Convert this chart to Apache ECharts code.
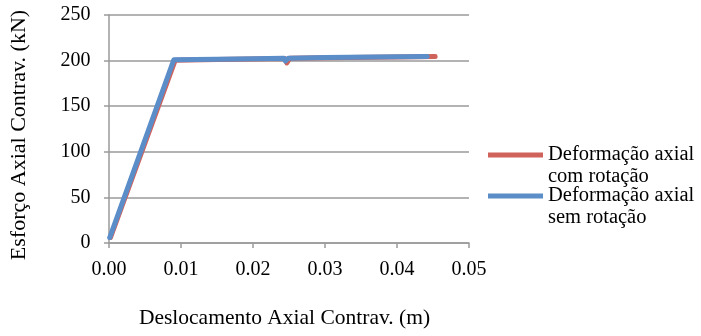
<!DOCTYPE html>
<html><head><meta charset="utf-8">
<script src="https://cdn.jsdelivr.net/npm/echarts@6/dist/echarts.min.js"></script>
<style>html,body{margin:0;padding:0;background:#fff}#c{width:701px;height:336px}</style>
</head><body><div id="c"></div>
<script>
const seriesNames = ['Deformação axial\ncom rotação', 'Deformação axial\nsem rotação'];
const comRotacao = [[0.0002, 6], [0.0092, 200.5], [0.0150, 201.2], [0.0200, 201.8], [0.0244, 202.4], [0.0247, 197.4], [0.0251, 202.6], [0.0300, 203.1], [0.0400, 204.0], [0.0453, 204.4]];
const semRotacao = [[0.0001, 6], [0.0090, 200.8], [0.0150, 201.4], [0.0200, 202.0], [0.0243, 202.5], [0.0245, 199.5], [0.0249, 202.7], [0.0300, 203.3], [0.0400, 204.2], [0.0442, 204.6]];
const xTitle = 'Deslocamento Axial Contrav. (m)';
const yTitle = 'Esforço Axial Contrav. (kN)';

const font = '"Liberation Serif", "Times New Roman", serif';
const gray = '#9a9a9a';
const iconPath = 'path://M0,0h0.01v0.01h-0.01z M0,8.5h55v5h-55z M0,43.99h0.01v0.01h-0.01z';

const chart = echarts.init(document.getElementById('c'), null, {renderer: 'canvas'});
chart.setOption({
  animation: false,
  backgroundColor: '#fff',
  grid: {left: 106.5, right: 232, top: 15, bottom: 93, containLabel: false},
  xAxis: {
    type: 'value', min: 0, max: 0.05, interval: 0.01,
    name: xTitle, nameLocation: 'middle', nameGap: 64,
    nameTextStyle: {fontFamily: font, fontSize: 21.5, color: '#000', padding: [0, 9, 0, 0]},
    axisLine: {show: true, lineStyle: {color: gray, width: 1.5}},
    axisTick: {show: true, length: 5, lineStyle: {color: gray, width: 1.5}},
    splitLine: {show: false},
    axisLabel: {fontFamily: font, fontSize: 20, color: '#000', margin: 17, formatter: v => v.toFixed(2)}
  },
  yAxis: {
    type: 'value', min: 0, max: 250, interval: 50,
    name: yTitle, nameLocation: 'middle', nameGap: 79, nameRotate: 90,
    nameTextStyle: {fontFamily: font, fontSize: 22, color: '#000', padding: [0, 12, 0, 0]},
    axisLine: {show: true, lineStyle: {color: gray, width: 1.5}},
    axisTick: {show: true, length: 5, lineStyle: {color: gray, width: 1.5}},
    splitLine: {show: true, lineStyle: {color: gray, width: 1.5}},
    axisLabel: {fontFamily: font, fontSize: 20, color: '#000', margin: 18.5}
  },
  legend: {
    orient: 'vertical', left: 488, top: 144, itemGap: -3, padding: 0,
    itemWidth: 55, itemHeight: 44, icon: iconPath,
    textStyle: {fontFamily: font, fontSize: 20.5, color: '#000', lineHeight: 22},
    data: seriesNames
  },
  series: [
    {name: seriesNames[0], type: 'line', data: comRotacao, showSymbol: false, symbol: 'none',
     lineStyle: {color: '#D0625C', width: 5, cap: 'round', join: 'round'}, itemStyle: {color: '#D0625C'}},
    {name: seriesNames[1], type: 'line', data: semRotacao, showSymbol: false, symbol: 'none',
     lineStyle: {color: '#5B8DC9', width: 5, cap: 'round', join: 'round'}, itemStyle: {color: '#5B8DC9'}}
  ]
});
</script></body></html>
